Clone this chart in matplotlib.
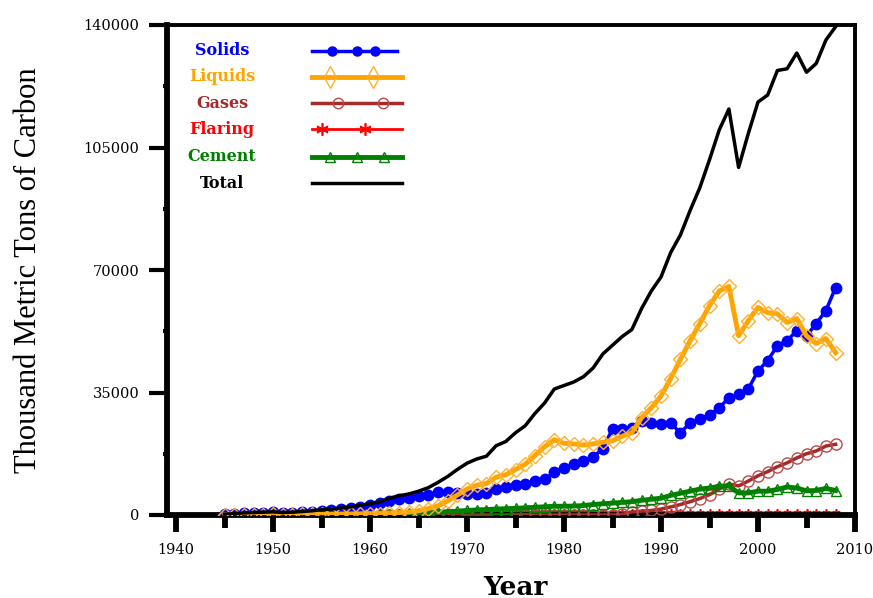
import matplotlib
matplotlib.use("Agg")
import matplotlib.pyplot as plt
from matplotlib.lines import Line2D
import numpy as np

years = list(range(1945, 2009))

solids = [150, 300, 450, 550, 650, 750, 550, 650, 800, 1000,
          1250, 1450, 1700, 1950, 2400, 2800, 3300, 4100, 4600, 4900,
          5300, 5800, 6500, 6700, 6400, 6000, 6100, 6400, 7400, 7900,
          8500, 9000, 9700, 10200, 12200, 13500, 14600, 15300, 16500, 19000,
          24600, 24600, 25000, 27000, 26300, 26000, 26200, 23500, 26300, 27500,
          28600, 30600, 33500, 34600, 36000, 41200, 44100, 48400, 49800, 52700,
          51200, 54700, 58400, 65000]

liquids = [30, 50, 80, 100, 120, 150, 100, 120, 150, 180,
           220, 250, 280, 300, 350, 380, 420, 550, 700, 850,
           1200, 1800, 2600, 4000, 5700, 7400, 8500, 9000, 10800, 11500,
           13000, 14500, 17000, 19500, 21500, 20500, 20300, 20000, 20300, 20800,
           21200, 22500, 23500, 27800, 30600, 34000, 39000, 44500, 49800, 54700,
           59800, 64000, 65300, 51200, 55500, 59300, 57800, 57500, 55000, 56100,
           51200, 49000, 50400, 46400]

gases = [0] * 41 + [200, 900, 1100, 1300, 1700, 2300, 3000, 3800, 4700,
                    5800, 7400, 8900, 8300, 9700, 11200, 12400, 13800, 14900, 16300,
                    17500, 18300, 19700, 20200]

flaring = [0] * 21 + [600] * 43

cement = [30, 40, 50, 50, 60, 70, 40, 50, 60, 80,
          100, 120, 150, 170, 200, 230, 260, 300, 380, 450,
          550, 650, 800, 950, 1100, 1300, 1450, 1550, 1700, 1800,
          1900, 2050, 2200, 2350, 2500, 2500, 2550, 2700, 3000, 3200,
          3400, 3600, 3800, 4200, 4500, 4800, 5600, 6200, 6800, 7400,
          7700, 8200, 8300, 6300, 6300, 6800, 6800, 7300, 8000, 7700,
          6900, 7000, 7600, 7000]

total = [200, 400, 600, 700, 800, 900, 700, 800, 1000, 1200,
         1500, 1700, 2000, 2300, 2800, 3200, 3800, 4800, 5500, 6000,
         6800, 7800, 9300, 11000, 13000, 14800, 16000, 16800, 19800, 21000,
         23500, 25500, 29000, 32000, 36000, 37000, 38000, 39500, 42000, 46000,
         48500, 51000, 53000, 59000, 64000, 68000, 75000, 80000, 87000, 93500,
         101500, 110000, 116000, 99300, 109000, 118000, 120000, 127000, 127500, 132000,
         126500, 129000, 135700, 139500]

legend_labels = ["Solids", "Liquids", "Gases", "Flaring", "Cement", "Total"]
xticks_major = [1940, 1950, 1960, 1970, 1980, 1990, 2000, 2010]
yticks_major = [0, 35000, 70000, 105000, 140000]

W, H = 873, 598
fig = plt.figure(figsize=(W / 100, H / 100), dpi=100)
ax = fig.add_axes([167 / W, 1 - 515 / H, (855 - 167) / W, (515 - 25) / H])

asterisk = (6, 2, 0)

styles = {
    "Solids": dict(color="#0000FF", lw=2.5, marker="o", ms=7.5, mfc="#0000FF", mec="#0000FF", mew=1, zorder=4),
    "Liquids": dict(color="#FFA500", lw=3.5, marker="D", ms=7, mfc="none", mec="#FFB030", mew=1, zorder=4),
    "Gases": dict(color="#A52A2A", lw=2.5, marker="o", ms=8, mfc="none", mec="#B84A4A", mew=1, zorder=3),
    "Flaring": dict(color="#FF0000", lw=2.0, marker=asterisk, ms=6, mfc="#FF0000", mec="#FF0000", mew=1.2, zorder=2),
    "Cement": dict(color="#008000", lw=3.5, marker="^", ms=7, mfc="none", mec="#008000", mew=1, zorder=3),
    "Total": dict(color="black", lw=2.5, marker=None, zorder=5),
}
series = {"Solids": solids, "Liquids": liquids, "Gases": gases,
          "Flaring": flaring, "Cement": cement, "Total": total}

for name in legend_labels:
    ax.plot(years, series[name], **styles[name])

ax.set_xlim(1939.07, 2010)
ax.set_ylim(0, 140000)
ax.set_xticks(xticks_major)
ax.set_xticks(list(range(1945, 2010, 10)), minor=True)
ax.set_yticks(yticks_major)
ax.set_yticks([17500, 52500, 87500, 122500], minor=True)
ax.set_yticklabels([str(v) for v in yticks_major])
ax.set_xticklabels([str(v) for v in xticks_major])

for s in ["left", "bottom"]:
    ax.spines[s].set_linewidth(4.2)
for s in ["top", "right"]:
    ax.spines[s].set_linewidth(2.8)

ax.tick_params(axis="x", which="major", direction="out", length=12, width=4.2, pad=8)
ax.tick_params(axis="x", which="minor", direction="out", length=9, width=4.2)
ax.tick_params(axis="y", which="major", direction="out", length=13, width=3, pad=7)
ax.tick_params(axis="y", which="minor", direction="out", length=3, width=3)
for lab in ax.get_xticklabels() + ax.get_yticklabels():
    lab.set_family("DejaVu Serif")
    lab.set_fontsize(10.5)

ax.set_xlabel("Year", family="DejaVu Serif", fontweight="bold", fontsize=19, va="center")
ax.xaxis.set_label_coords(0.507, -0.147)
ax.set_ylabel("Thousand Metric Tons of Carbon", family="Liberation Serif", fontsize=22, va="center")
ax.yaxis.set_label_coords(-0.202, 0.5)

# legend drawn manually
def fx(px):
    return px / W

def fy(py):
    return 1 - py / H

leg_rows = [
    ("Solids", 50.5, [312, 332, 357, 375, 397], [1, 2, 3], 6.5),
    ("Liquids", 76.5, [312, 330, 373, 402], [1, 2], 11),
    ("Gases", 103, [312, 338, 383, 402], [1, 2], 7.5),
    ("Flaring", 129, [312, 322, 365, 402], [1, 2], 9),
    ("Cement", 157, [312, 330, 357, 384, 402], [1, 2, 3], 6.5),
    ("Total", 183, [312, 402], [], 0),
]
for name, py, xs, mk, ms in leg_rows:
    st = dict(styles[name])
    st.pop("zorder", None)
    col = st["color"]
    fig.text(fx(222), fy(py), name, color=col, family="DejaVu Serif",
             fontweight="bold", fontsize=11.5, ha="center", va="center")
    if name == "Liquids":
        st["marker"] = "d"
    if mk:
        st["ms"] = ms
    line = Line2D([fx(x) for x in xs], [fy(py)] * len(xs), transform=fig.transFigure,
                  markevery=mk if mk else None, **st)
    if not mk:
        line.set_marker("None")
    fig.add_artist(line)

fig.savefig("out.png", dpi=100)
